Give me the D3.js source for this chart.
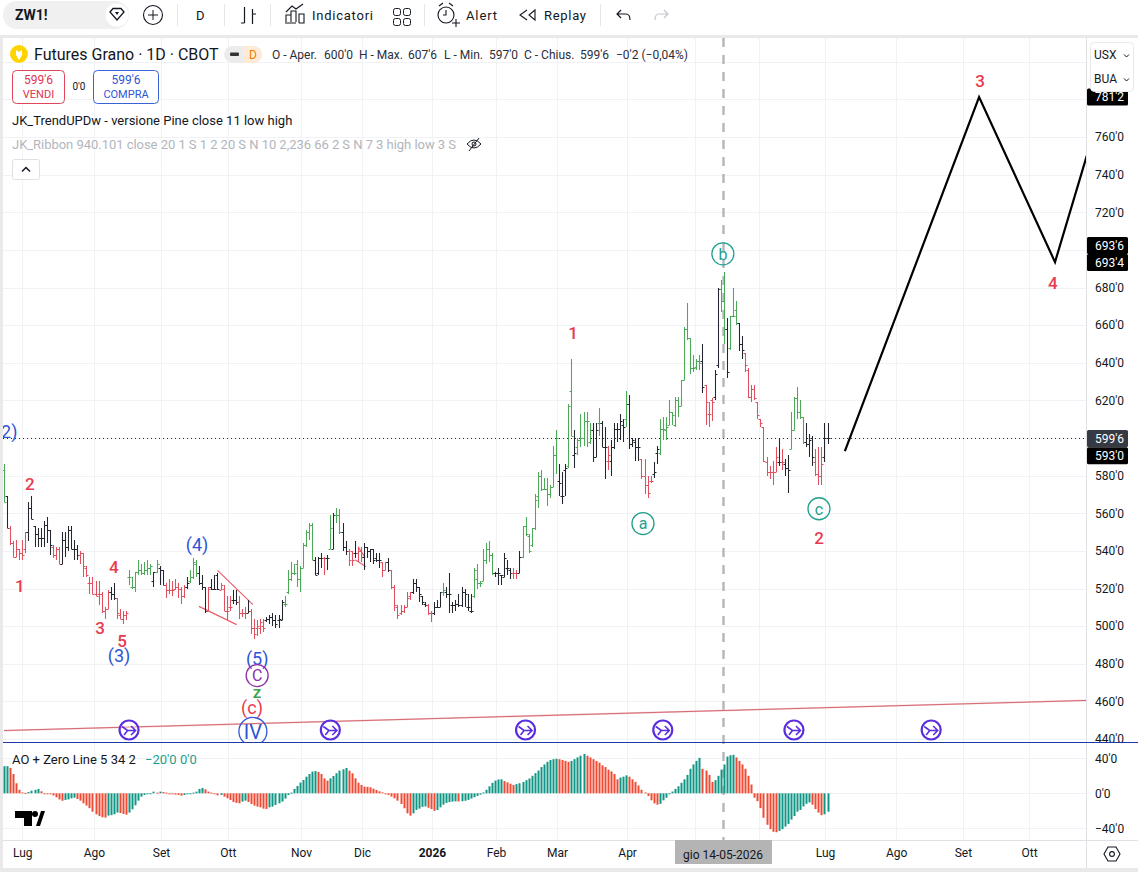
<!DOCTYPE html>
<html>
<head>
<meta charset="utf-8">
<script src="https://cdn.jsdelivr.net/npm/d3@7"></script>
<style>
  html, body { margin: 0; padding: 0; background: #fff; }
  svg { display: block; }
  text { font-family: Roboto, "Noto Sans", sans-serif; fill: #131722; }
  .axis text { font-size: 12px; fill: #131722; }
</style>
</head>
<body>
<div id="chart"></div>
<script>
// daily bars of ZW1!, one value per bar
const opens = [
  583,569,552,544,537,541,539,541,550,563, 553,549,547,547,554,551,542,538,541,533,
  546,542,551,541,541,538,539,531,523,523, 517,517,517,508,509,518,517,515,506,504,
  506,526,521,521,529,530,528,530,531,524, 529,531,530,522,519,519,520,521,520,516,
  521,524,526,533,528,523,521,508,521,520, 527,519,520,508,510,514,514,513,507,507,
  507,508,499,499,499,500,503,504,505,503, 503,503,512,518,525,528,533,525,531,543,
  550,554,535,528,536,536,536,541,541,559, 559,550,542,540,540,539,539,540,537,542,
  540,541,536,535,534,530,534,530,521,510, 507,508,510,516,518,523,521,516,512,511,
  507,507,510,510,518,518,517,511,511,512, 511,518,510,508,516,525,523,524,535,541,
  538,528,528,527,526,531,530,528,528,528, 537,553,548,543,552,569,580,573,573,570,
  574,591,577,569,583,585,625,591,595,599, 600,609,598,604,590,608,608,595,588,588,
  595,605,605,607,610,618,597,598,595,589, 580,575,577,581,592,592,605,604,607,614,
  607,620,617,631,658,653,637,638,641,641, 628,613,620,622,639,679,673,658,648,665,
  668,661,650,645,636,622,626,619,610,606, 587,582,582,582,587,587,586,584,594,604,
  621,614,611,598,597,600,587,581,580,590, 600
];
const highs = [
  586,569,553,545,546,541,546,550,566,569, 553,552,552,556,558,551,543,542,542,550,
  550,553,553,546,543,540,539,532,526,526, 524,524,518,510,519,521,523,515,509,508,
  508,530,526,529,535,533,534,535,533,529, 535,532,530,523,525,524,525,523,521,522,
  526,530,536,535,532,527,521,521,525,527, 528,523,522,516,516,519,519,516,509,510,
  514,509,504,503,504,504,505,506,507,506, 506,514,516,530,534,533,535,532,544,551,
  555,555,537,537,539,537,538,559,560,563, 562,555,545,541,540,545,542,542,544,542,
  541,541,539,539,534,534,536,530,522,511, 511,511,518,518,525,525,521,516,513,512,
  508,513,514,518,523,521,528,513,514,517, 521,520,517,517,531,533,524,541,544,545,
  539,529,531,527,539,535,531,531,530,540, 553,558,549,552,570,582,583,579,579,575,
  596,604,586,582,586,618,642,604,600,613, 614,614,608,608,608,616,609,606,596,599,
  608,608,613,610,625,623,600,600,600,589, 589,580,580,587,596,610,611,611,620,614,
  622,622,631,659,672,653,644,642,644,650, 628,619,621,636,680,684,688,664,665,680,
  673,661,654,645,637,628,628,619,610,606, 590,585,588,595,600,594,589,591,614,622,
  627,620,611,608,602,601,594,595,595,608, 607.75
];
const lows = [
  566,552,543,537,537,535,535,539,545,557, 542,542,542,542,544,538,536,535,533,533,
  537,540,541,535,535,533,526,526,517,517, 516,511,507,504,509,514,514,504,504,501,
  503,522,520,518,527,527,527,527,527,521, 528,522,522,515,517,516,519,515,512,515,
  520,523,525,526,522,519,507,508,519,519, 519,519,508,503,508,512,511,504,505,504,
  507,496,493,495,496,497,502,501,500,499, 499,503,510,517,524,527,521,518,531,542,
  546,535,527,527,531,527,530,541,541,555, 549,540,538,532,532,536,534,534,530,536,
  534,533,534,531,526,530,529,520,508,504, 506,507,510,514,517,518,513,511,510,506,
  502,506,510,510,516,515,507,507,508,510, 510,510,508,507,515,520,521,524,533,534,
  527,526,522,522,526,527,525,525,525,528, 536,548,539,542,551,563,572,573,564,568,
  574,581,569,565,569,584,601,584,591,595, 596,595,597,587,590,601,595,578,583,580,
  594,598,599,598,606,594,595,588,588,578, 570,568,576,579,586,591,599,599,607,607,
  606,611,617,631,652,634,635,636,636,624, 607,606,609,620,637,667,650,632,647,665,
  660,646,642,635,621,619,620,610,606,587, 580,578,575,582,585,583,580,571,594,604,
  610,610,597,595,590,585,580,575,575,587, 597
];
const closes = [
  566,552,544,537,541,539,538,550,563,557, 549,547,547,554,551,543,538,541,533,546,
  542,551,541,541,538,539,532,527,523,517, 516,517,508,509,518,517,515,507,504,506,
  507,526,521,529,530,528,530,531,532,529, 533,530,522,519,519,519,521,520,516,521,
  523,526,534,528,523,521,508,520,520,520, 520,522,508,508,510,514,513,507,507,507,
  508,499,496,500,502,499,504,505,503,501, 504,513,512,525,528,528,525,531,543,550,
  554,535,527,536,536,536,536,552,559,559, 550,542,540,535,535,539,540,537,542,540,
  541,535,535,535,530,534,530,521,511,506, 508,510,515,518,523,521,517,513,511,507,
  507,510,510,518,519,517,517,511,512,511, 518,517,510,508,530,523,523,535,541,538,
  528,528,528,527,536,531,528,528,528,537, 553,549,540,552,567,580,573,573,570,574,
  591,600,576,569,584,617,601,592,599,600, 609,609,604,590,604,608,595,595,591,595,
  605,605,609,606,618,597,599,595,595,580, 575,571,577,582,594,605,605,606,614,612,
  620,617,631,658,653,637,637,641,640,627, 619,613,619,634,679,673,658,635,665,665,
  661,650,647,639,622,626,621,612,608,588, 582,582,582,590,587,587,584,583,604,621,
  614,611,598,597,599,590,581,580,586,600, 599.75
];
// g = up trend, r = down trend, k = neutral
const trend = "gkrrrrrrkk" + "kkkkkkrrrk" + "kkkkkrrrrr" + "rrrrrkkrrr" + "rggggggggk" + "gkkrrrrrrr"
  + "kgggkkkrkk" + "krrrrkkrrr" + "krrrrrkkkk" + "kkgggggggg" + "ggkkkrkgkg" + "gkkrrkrrkk"
  + "kkkkrrkrrr" + "rrrrkkkkkr" + "rkkkgkkkkk" + "kkkkgggggg" + "gkkkkkkrrk" + "gggggggggg"
  + "ggkkkggkgg" + "gggkkgkkrk" + "kkkkgkkkkr" + "rrrkkggggg" + "gggggggggk" + "rrrkkggkgg"
  + "gkkrrrrrrr" + "rrrrkrkkgg" + "gggkkkrrrk" + "k";
const trendColors = { g: "#4ca958", r: "#e2505f", k: "#23262f" };

const aoValues = [
  31,31,29,22,11.5,4,1,.5,1.5,3, 4,5,2.3,0,-.5,-1,-2.5,-4.5,-7,-8.5,
  -7.6,-7,-5.7,-5,-6.5,-8.4,-11.4,-14,-17,-21, -24,-26,-27.4,-27.8,-25.5,-25,-24,-22,-22.5,-23.6,
  -24.4,-22,-18.3,-13.7,-8.4,-3.8,-1.9,-.8,-.4,1.9, .8,1.9,1.5,.8,0,-.8,-1.5,-1.9,-2.7,-1.9,
  -1.1,-.4,.8,1.9,5,6.1,4.6,1.9,.8,-.8, -2.3,-1.9,-3.8,-5.7,-7.6,-9.9,-11,-11.4,-9.5,-8.4,
  -9.9,-12.2,-14,-15.2,-16,-17.5,-17.9,-16,-15.2,-13.3, -11.4,-9.5,-6.1,-1.9,.8,5,8.4,12.2,15.2,19,
  22.1,24.8,25.5,24.4,22.1,17.1,14.5,17.1,19.8,22.9, 25.9,27.4,29,25.9,22.9,17.1,12.2,9.5,7.6,7.4,
  6.9,5.3,3.8,2.3,1.1,-.8,-1.9,-3.8,-5.7,-8.4, -12.2,-17.1,-22.9,-25.5,-22.9,-19,-17.5,-15.5,-15,-16.5,
  -18,-20,-19,-16,-13,-11,-10,-9.5,-9.2,-9.4, -9,-8.5,-7.5,-6,-4.5,-3,-1.5,1,4,8,
  12,14.5,15.8,16,14,12.5,11,9.5,10.5,11.5, 13,15,17,20,23,26,30,33,36,38,
  39,39.5,39,38,37,36,37,39,41,43, 45,43,41,39,37,35,32,30,27,25,
  22,16,18,19,20.5,19,16,13,9,4, 1,-3,-8,-11.5,-13,-12,-8,-5,-1,2,
  5,8,12,16,21,28,33,37,40.5,28, 26,21,13,15,20,27,33,42,43.5,44,
  41,37,33,28,20,10,-5,-9,-17,-28, -36,-41,-44,-44.5,-43,-41,-38,-35,-30,-26,
  -21,-19,-15,-12,-10.5,-13,-18,-22,-25,-24,-21
];

// time axis, bar index of the first session of each month
const monthIdx = [6,29.5,51.5,73.4,97.4,117.4,140.3,161.3,181.3,204.3,226.6,247.5,269.2,292.5,314.4,336.1];
const monthNames = ["Lug","Ago","Set","Ott","Nov","Dic","2026","Feb","Mar","Apr","","","Lug","Ago","Set","Ott"];

const priceTicks = [440,460,480,500,520,540,560,580,600,620,640,660,680,700,720,740,760,780,800];
const priceLabelHidden = [600,700,780,800];
const aoTicks = [40,0,-40];

// forecast drawn by hand on the chart
const waveIdx = [275.7,319.7,344.6,355];
const wavePrice = [593,781.25,693.5,750];

const trendIdx = [0,355];
const trendPrice = [444.5,460.5];
const wedges = [[70,529.6,81.6,511.4],[63.9,510.5,76.3,500.8],[115.1,535.3,118.7,531.6],[116.1,542.2,118.4,536.4]];

// text, bar index, price, colour, circled
const waveLabels = [
  ["1",5.2,521.5,"#e83a4f",0],["2",8.5,575.7,"#e83a4f",0],["3",31.5,499.2,"#e83a4f",0],
  ["4",36,531.6,"#e83a4f",0],["5",38.7,492.3,"#e83a4f",0],["(3)",37.7,484.3,"#2f55d4",0],
  ["(4)",63.3,543.3,"#2f55d4",0],["(5)",83,482.7,"#2f55d4",0],["C",83,473.7,"#8e2fa8",11],
  ["z",83,465.2,"#43a047",0],["(c)",81.3,456.7,"#e83a4f",0],["IV",81.6,444,"#2f55d4",14],
  ["1",186.6,655.9,"#e83a4f",0],["2",267.2,547,"#e83a4f",0],["3",320,789.8,"#e83a4f",0],
  ["4",343.9,682.5,"#e83a4f",0],["a",209.5,554.5,"#22a08f",11],["b",235.7,697.9,"#22a08f",11],
  ["c",267.2,562.4,"#22a08f",11],["(2)",0.7,603.3,"#2f55d4",0]
];
const markerIdx = [41,107,171,216,259,304];

const tagPrices = [781.25,693.75,693.5,599.75,593];
const tagOffset = [0,-16.2,0.3,0,4.5];
const tagFill = ["#000","#000","#000","#363a45","#000"];

const W = 1138, H = 872;
const paneL = 3, paneR = 1086, mainT = 38, mainB = 742, aoB = 840;

const fmtPrice = v => {
  const a = Math.abs(v), w = Math.floor(a);
  return (v < 0 ? "\u2212" : "") + w + "'" + Math.round((a - w) * 8);
};

const x = d3.scaleLinear().domain([0, 355]).range([4, 4 + 3.05 * 355]);
const y = d3.scaleLinear().domain([440, 760]).range([739, 137]);
const yAo = d3.scaleLinear().domain([-40, 40]).range([828.3, 758.3]);
const px = v => Math.round(x(v)) + 0.5;

const svg = d3.select("#chart").append("svg").attr("width", W).attr("height", H);

const defs = svg.append("defs");
defs.append("clipPath").attr("id", "mainClip").append("rect")
  .attr("x", paneL).attr("y", mainT).attr("width", paneR - paneL).attr("height", mainB - mainT);
defs.append("clipPath").attr("id", "axisClip").append("rect")
  .attr("x", paneR).attr("y", mainT).attr("width", W - paneR).attr("height", mainB - mainT);

// frame bands
svg.append("rect").attr("x", 0).attr("y", 35).attr("width", W).attr("height", 3).attr("fill", "#e9e9ea");
svg.append("rect").attr("x", 0).attr("y", 35).attr("width", 3).attr("height", H - 35).attr("fill", "#e9e9ea");
svg.append("rect").attr("x", 0).attr("y", 868).attr("width", W).attr("height", 4).attr("fill", "#e9e9ea");

// grid
const grid = svg.append("g").attr("stroke", "#f1f2f5").attr("stroke-width", 1);
grid.selectAll(".gv").data(monthIdx).join("line")
  .attr("x1", d => px(d)).attr("x2", d => px(d)).attr("y1", mainT).attr("y2", aoB);
grid.selectAll(".gh").data(priceTicks).join("line")
  .attr("x1", paneL).attr("x2", paneR).attr("y1", d => Math.round(y(d)) + .5).attr("y2", d => Math.round(y(d)) + .5);
grid.selectAll(".ga").data(aoTicks).join("line")
  .attr("x1", paneL).attr("x2", paneR).attr("y1", d => Math.round(yAo(d)) + .5).attr("y2", d => Math.round(yAo(d)) + .5);

// crosshair
svg.append("line").attr("x1", px(236) - 1).attr("x2", px(236) - 1).attr("y1", mainT).attr("y2", aoB)
  .attr("stroke", "#b5b6b9").attr("stroke-width", 2.4).attr("stroke-dasharray", "9,8");

const main = svg.append("g").attr("clip-path", "url(#mainClip)");

// last price line
main.append("line").attr("x1", paneL).attr("x2", paneR)
  .attr("y1", Math.round(y(599.75)) + .5).attr("y2", Math.round(y(599.75)) + .5)
  .attr("stroke", "#23262f").attr("stroke-width", 1).attr("stroke-dasharray", "1,3");

// long trend line
const trendLine = d3.line().x((d, i) => x(trendIdx[i])).y(d => y(d));
main.append("path").attr("d", trendLine(trendPrice)).attr("fill", "none").attr("stroke", "#f8cdd0").attr("stroke-width", 1.8);
main.append("path").attr("d", trendLine(trendPrice)).attr("fill", "none").attr("stroke", "#c8505c").attr("stroke-width", 0.8);

// small wedges
main.selectAll(".wedge").data(wedges).join("line")
  .attr("x1", d => x(d[0])).attr("y1", d => y(d[1])).attr("x2", d => x(d[2])).attr("y2", d => y(d[3]))
  .attr("stroke", "#e8606c").attr("stroke-width", 1.2);

// OHLC bars
main.selectAll(".bar").data(opens).join("path")
  .attr("class", "bar")
  .attr("fill", "none").attr("stroke-width", 1.05)
  .attr("stroke", (d, i) => trendColors[trend[i]])
  .attr("d", (d, i) => {
    const cx = px(i);
    const yO = Math.round(y(d)) + .5, yC = Math.round(y(closes[i])) + .5;
    return `M${cx},${Math.round(y(highs[i]))}V${Math.round(y(lows[i]))}M${cx - 2},${yO}H${cx}M${cx},${yC}H${cx + 2}`;
  });

// forecast wave
main.append("path")
  .attr("d", d3.line().x((d, i) => x(waveIdx[i])).y(d => y(d))(wavePrice))
  .attr("fill", "none").attr("stroke", "#000").attr("stroke-width", 2.2);

// wave labels
const labelSize = d => d[0] === "IV" ? 20 : d[0].startsWith("(") ? 18 : d[4] > 0 ? 16 : 17;
const lab = main.selectAll(".wl").data(waveLabels).join("g")
  .attr("transform", d => `translate(${x(d[1])},${y(d[2])})`);
lab.filter(d => d[4] > 0).append("circle")
  .attr("r", d => d[4]).attr("fill", "none").attr("stroke", d => d[3]).attr("stroke-width", 1.3);
lab.append("text").attr("text-anchor", "middle").attr("dy", "0.36em")
  .style("font-size", d => labelSize(d) + "px")
  .style("font-weight", d => d[4] > 0 || d[0].startsWith("(") ? 400 : 500)
  .style("fill", d => d[3]).text(d => d[0]);

// purple session markers
const mk = main.selectAll(".mk").data(markerIdx).join("g")
  .attr("transform", d => `translate(${x(d)},730)`)
  .attr("fill", "none").attr("stroke", "#5a2de0").attr("stroke-width", 2);
mk.append("circle").attr("r", 9.5).attr("stroke-width", 2.2).attr("fill", "#fff").attr("fill-opacity", 0.4);
mk.append("path").attr("d", "M-7,-3.5L-1.5,0.5H6M2,-4L6.5,0.5L2,5M-1.5,0.5L-5,5").attr("stroke-width", 1.6);

// separators and price pane axis
svg.append("line").attr("x1", paneR + .5).attr("x2", paneR + .5).attr("y1", mainT).attr("y2", 868).attr("stroke", "#dfe1e6");
svg.append("line").attr("x1", paneL).attr("x2", W).attr("y1", aoB + .5).attr("y2", aoB + .5).attr("stroke", "#dfe1e6");

const yAxis = d3.axisRight(y)
  .tickValues(priceTicks.filter(d => !priceLabelHidden.includes(d)))
  .tickFormat(fmtPrice).tickSize(0).tickPadding(9);
const yG = svg.append("g").attr("clip-path", "url(#axisClip)")
  .append("g").attr("class", "axis").attr("transform", `translate(${paneR},0)`).call(yAxis);
yG.select(".domain").remove();

const aoAxis = d3.axisRight(yAo).tickValues(aoTicks).tickFormat(fmtPrice).tickSize(0).tickPadding(9);
const aoG = svg.append("g").attr("class", "axis").attr("transform", `translate(${paneR},0)`).call(aoAxis);
aoG.select(".domain").remove();

// split line between the panes
svg.append("line").attr("x1", paneL).attr("x2", W).attr("y1", mainB + .5).attr("y2", mainB + .5).attr("stroke", "#1f3aa6").attr("stroke-width", 1.2);

// AO histogram, colour follows the change from the bar before
svg.append("g").selectAll("rect").data(aoValues).join("rect")
  .attr("x", (d, i) => px(i) - 1)
  .attr("width", 2)
  .attr("y", d => Math.min(yAo(d), yAo(0)))
  .attr("height", d => Math.max(Math.abs(yAo(d) - yAo(0)), 1))
  .attr("fill", (d, i) => (i === 0 || d >= aoValues[i - 1]) ? "#0f9684" : "#f04a35");

// price tags
const tags = svg.append("g").selectAll("g").data(tagPrices).join("g")
  .attr("transform", (d, i) => `translate(${paneR + 1},${y(d) + tagOffset[i]})`);
tags.append("rect").attr("y", -8.5).attr("width", 41).attr("height", 17).attr("rx", 1.5).attr("fill", (d, i) => tagFill[i]);
tags.append("text").attr("x", 8).attr("dy", "0.36em").style("font-size", "12px").style("fill", "#fff").text(fmtPrice);

// time axis
const xAxis = d3.axisBottom(x).tickValues(monthIdx).tickFormat((d, i) => monthNames[i]).tickSize(0).tickPadding(8);
const xG = svg.append("g").attr("class", "axis").attr("transform", `translate(0,${aoB})`).call(xAxis);
xG.select(".domain").remove();
xG.selectAll("text").filter((d, i) => monthNames[i] === "2026").style("font-weight", 700);

// crosshair date tag
svg.append("rect").attr("x", 675).attr("y", 840).attr("width", 97).attr("height", 24).attr("fill", "#b4b4b4");
svg.append("text").attr("x", 723).attr("y", 859).attr("text-anchor", "middle").style("font-size", "12px").text("gio 14-05-2026");

// settings hexagon
svg.append("path").attr("d", "M1104,854L1108,847H1116L1120,854L1116,861H1108Z").attr("fill", "none").attr("stroke", "#131722").attr("stroke-width", 1.1);
svg.append("circle").attr("cx", 1112).attr("cy", 854).attr("r", 2.4).attr("fill", "none").attr("stroke", "#131722").attr("stroke-width", 1.1);

// AO legend and logo
const txt = (s, tx, ty, size, col, weight) => svg.append("text").attr("x", tx).attr("y", ty)
  .style("font-size", size + "px").style("fill", col || "#131722").style("font-weight", weight || 400).text(s);
txt("AO + Zero Line 5 34 2", 12, 764, 13);
txt("\u221220'0", 145, 764, 13, "#1f9e8c");
txt("0'0", 180, 764, 13, "#1f9e8c");
svg.append("path").attr("d", "M15,811H32V826H24V818H15Z").attr("fill", "#000");
svg.append("circle").attr("cx", 35).attr("cy", 814).attr("r", 3).attr("fill", "#000");
svg.append("path").attr("d", "M36,826L41,811H45L40,826Z").attr("fill", "#000");

// legend block
svg.append("circle").attr("cx", 19).attr("cy", 54).attr("r", 9).attr("fill", "#ffd400");
svg.append("path").attr("d", "M16,50L19,52L22,50V55L19,60L16,55Z").attr("fill", "#fff");
txt("Futures Grano \u00b7 1D \u00b7 CBOT", 34, 60, 16);
svg.append("rect").attr("x", 224).attr("y", 46).attr("width", 38).attr("height", 17).attr("rx", 8.5).attr("fill", "#ececec");
svg.append("path").attr("d", "M243,46H253.5A8.5,8.5,0,0,1,253.5,63H243Z").attr("fill", "#fdebd8");
svg.append("rect").attr("x", 230).attr("y", 52.5).attr("width", 9).attr("height", 3.5).attr("rx", 1).attr("fill", "#333");
txt("D", 249, 59, 12, "#f57c00");
const ohlc = ["O - Aper.", "600'0", "H - Max.", "607'6", "L - Min.", "597'0", "C - Chius.", "599'6", "\u22120'2 (\u22120,04%)"];
const ohlcX = [272, 324, 359, 408, 444, 489, 524, 580, 616];
ohlc.forEach((s, i) => txt(s, ohlcX[i], 59, 12, "#2a2e39"));

svg.append("rect").attr("x", 12.5).attr("y", 70.5).attr("width", 52).attr("height", 33).attr("rx", 4).attr("fill", "#fff").attr("stroke", "#e0455a");
svg.append("rect").attr("x", 93.5).attr("y", 70.5).attr("width", 65).attr("height", 33).attr("rx", 4).attr("fill", "#fff").attr("stroke", "#3a62d8");
svg.append("text").attr("x", 38.5).attr("y", 84).attr("text-anchor", "middle").style("font-size", "12px").style("fill", "#e0334f").text("599'6");
svg.append("text").attr("x", 38.5).attr("y", 98).attr("text-anchor", "middle").style("font-size", "11px").style("fill", "#e0334f").text("VENDI");
svg.append("text").attr("x", 126).attr("y", 84).attr("text-anchor", "middle").style("font-size", "12px").style("fill", "#2f55d4").text("599'6");
svg.append("text").attr("x", 126).attr("y", 98).attr("text-anchor", "middle").style("font-size", "11px").style("fill", "#2f55d4").text("COMPRA");
svg.append("text").attr("x", 79).attr("y", 90).attr("text-anchor", "middle").style("font-size", "10px").text("0'0");

txt("JK_TrendUPDw - versione Pine close 11 low high", 12, 125, 13);
txt("JK_Ribbon 940.101 close 20 1 S 1 2 20 S N 10 2,236 66 2 S N 7 3 high low 3 S", 12, 149, 13, "#b2b5bd").attr("textLength", 444);
// hidden eye
svg.append("path").attr("d", "M467,144Q474,136 481,144Q474,152 467,144ZM469,151L479,138").attr("fill", "none").attr("stroke", "#131722");
svg.append("circle").attr("cx", 474).attr("cy", 144).attr("r", 2).attr("fill", "none").attr("stroke", "#131722");
svg.append("rect").attr("x", 12.5).attr("y", 159.5).attr("width", 27).attr("height", 20).attr("rx", 2).attr("fill", "#fff").attr("stroke", "#dfe1e6");
svg.append("path").attr("d", "M22,171.5L26,167.5L30,171.5").attr("fill", "none").attr("stroke", "#131722").attr("stroke-width", 1.5);

// currency and unit box, it sits over the top of the 781'2 tag
svg.append("rect").attr("x", 1090.5).attr("y", 42.5).attr("width", 43).attr("height", 49).attr("rx", 4).attr("fill", "#fff").attr("stroke", "#e8e9ec");
txt("USX", 1094, 59, 12);
txt("BUA", 1094, 83, 12);
svg.append("path").attr("d", "M1124,54.5L1126.5,57L1129,54.5M1124,78.5L1126.5,81L1129,78.5").attr("fill", "none").attr("stroke", "#131722");

// toolbar
svg.append("path").attr("d", "M17,1H115A14,14,0,0,1,115,29H17A14,14,0,0,1,17,1Z").attr("fill", "#f0f0f1");
svg.append("circle").attr("cx", 117).attr("cy", 15).attr("r", 11.5).attr("fill", "#fff");
svg.append("path").attr("d", "M110,12L113,8.5H121L124,12L117,20Z").attr("fill", "none").attr("stroke", "#131722").attr("stroke-width", 1.3);
svg.append("path").attr("d", "M115,12L119,12L117,15Z").attr("fill", "#131722");
txt("ZW1!", 15, 20, 14, "#131722", 700);
svg.append("circle").attr("cx", 153).attr("cy", 15).attr("r", 9.5).attr("fill", "none").attr("stroke", "#131722").attr("stroke-width", 1.1);
svg.append("path").attr("d", "M153,10V20M148,15H158").attr("stroke", "#131722");
[177, 224, 270, 424, 600].forEach(s => svg.append("line").attr("x1", s + .5).attr("x2", s + .5).attr("y1", 4).attr("y2", 26).attr("stroke", "#e6e7ea"));
txt("D", 196, 20, 13);
svg.append("path").attr("d", "M244.5,7V23M241,23H244.5M252.5,9V24M252.5,14H256").attr("fill", "none").attr("stroke", "#131722").attr("stroke-width", 1.2);
svg.append("path").attr("d", "M286,22V15H291V22M291,22V11H296V22M296,23H285M286,12L292,6L296,9L303,4M299,23V14H304V23H299").attr("fill", "none").attr("stroke", "#131722").attr("stroke-width", 1.1);
txt("Indicatori", 312, 20, 13).attr("textLength", 61);
[[393, 8], [403, 8], [393, 18], [403, 18]].forEach(b => svg.append("rect").attr("x", b[0] + .5).attr("y", b[1] + .5).attr("width", 7).attr("height", 7).attr("rx", 2).attr("fill", "none").attr("stroke", "#131722"));
svg.append("circle").attr("cx", 446).attr("cy", 15).attr("r", 8).attr("fill", "none").attr("stroke", "#131722").attr("stroke-width", 1.1);
svg.append("path").attr("d", "M446,10V15H443M439,6L443,3M453,6L449,3M456,19V27M452,23H460").attr("fill", "none").attr("stroke", "#131722").attr("stroke-width", 1.1);
txt("Alert", 466, 20, 13).attr("textLength", 31);
svg.append("path").attr("d", "M527,10L520,15L527,20M535,10L529,15L535,20Z").attr("fill", "none").attr("stroke", "#131722").attr("stroke-width", 1.1);
txt("Replay", 544, 20, 13).attr("textLength", 42);
svg.append("path").attr("d", "M621,10L617,14L621,18M617,14H626Q630,14 630,20").attr("fill", "none").attr("stroke", "#131722").attr("stroke-width", 1.2);
svg.append("path").attr("d", "M664,10L668,14L664,18M668,14H659Q655,14 655,20").attr("fill", "none").attr("stroke", "#c4c6cc").attr("stroke-width", 1.2);
</script>
</body>
</html>
